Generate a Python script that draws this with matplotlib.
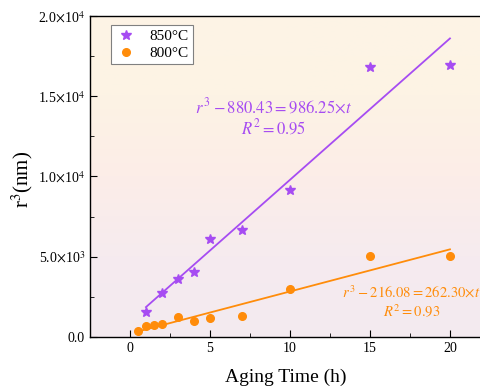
import matplotlib
matplotlib.use("Agg")
import matplotlib.pyplot as plt
import numpy as np
from matplotlib.colors import LinearSegmentedColormap
from matplotlib.ticker import FuncFormatter, MultipleLocator

plt.rcParams['font.family'] = ['Liberation Serif', 'DejaVu Serif']
plt.rcParams['mathtext.fontset'] = 'stix'

# 850 C data
t_850 = [1, 2, 3, 4, 5, 7, 10, 15, 20]
r3_850 = [1540, 2760, 3610, 4070, 6100, 6670, 9160, 16820, 16950]
fit_850 = (986.25, 880.43)  # intercept, slope as drawn

# 800 C data
t_800 = [0.5, 1, 1.5, 2, 3, 4, 5, 7, 10, 15, 20]
r3_800 = [390, 690, 730, 810, 1270, 980, 1180, 1310, 2970, 5050, 5050]
fit_800 = (216.08, 262.30)

purple = '#a64cf2'
orange = '#ff8c0a'

fig = plt.figure(figsize=(4.81, 3.87), dpi=100)
ax = fig.add_axes([0.187, 0.129, 0.813, 0.830])

xmin, xmax = -2.5, 21.94
ymin, ymax = 0, 20000

# background gradient
bg = LinearSegmentedColormap.from_list('bg', ['#f3eaf0', '#f6ebef', '#fcede8', '#fdf3e4', '#fdf4e6'])
grad = np.linspace(0, 1, 256).reshape(-1, 1)
ax.imshow(grad, extent=[xmin, xmax, ymin, ymax], origin='lower', aspect='auto',
          cmap=bg, zorder=0)

ax.plot(t_850, r3_850, linestyle='none', marker='*', ms=7, color=purple, label='850°C', zorder=3)
ax.plot(t_800, r3_800, linestyle='none', marker='o', ms=5.5, color=orange, label='800°C', zorder=3)

tt = np.array([t_850[0], t_850[-1]])
ax.plot(tt, fit_850[0] + fit_850[1] * tt, color=purple, lw=1.3, zorder=2)
tt = np.array([t_800[0], t_800[-1]])
ax.plot(tt, fit_800[0] + fit_800[1] * tt, color=orange, lw=1.3, zorder=2)

ax.text(9.0, 14300, r'$r^{\,3}-880.43=986.25{\times}t$', color=purple, fontsize=12,
        ha='center', va='center')
ax.text(9.0, 13000, r'$R^2=0.95$', color=purple, fontsize=12, ha='center', va='center')
ax.text(17.6, 2800, r'$r^{\,3}-216.08=262.30{\times}t$', color=orange, fontsize=10.5,
        ha='center', va='center')
ax.text(17.6, 1600, r'$R^2=0.93$', color=orange, fontsize=10.5, ha='center', va='center')

ax.set_xlim(xmin, xmax)
ax.set_ylim(ymin, ymax)
ax.xaxis.set_major_locator(MultipleLocator(5))
ax.xaxis.set_minor_locator(MultipleLocator(2.5))
ax.yaxis.set_major_locator(MultipleLocator(5000))
ax.yaxis.set_minor_locator(MultipleLocator(2500))


def yfmt(v, pos):
    if v <= 0:
        return '0.0'
    e = int(np.floor(np.log10(v)))
    return r'%.1f$\times$10$^{%d}$' % (v / 10 ** e, e)


ax.yaxis.set_major_formatter(FuncFormatter(yfmt))
ax.tick_params(which='both', direction='in', labelsize=10, top=False, right=False)
ax.tick_params(which='major', length=5)
ax.tick_params(which='minor', length=3)
ax.spines['right'].set_visible(False)
for s in ['left', 'bottom', 'top']:
    ax.spines[s].set_linewidth(1.0)

ax.set_xlabel('Aging Time (h)', fontsize=14, labelpad=10)
ax.set_ylabel(r'r$^3$(nm)', fontsize=15)
ax.yaxis.set_label_coords(-0.14, 0.49)

leg = ax.legend(loc='upper left', bbox_to_anchor=(0.054, 0.972), borderaxespad=0, fontsize=11,
                fancybox=False, edgecolor='#808080', framealpha=1, handletextpad=0.9,
                borderpad=0.3, labelspacing=0.2, handlelength=1.3)
leg.get_frame().set_linewidth(0.8)

fig.savefig('out.png', dpi=100)
